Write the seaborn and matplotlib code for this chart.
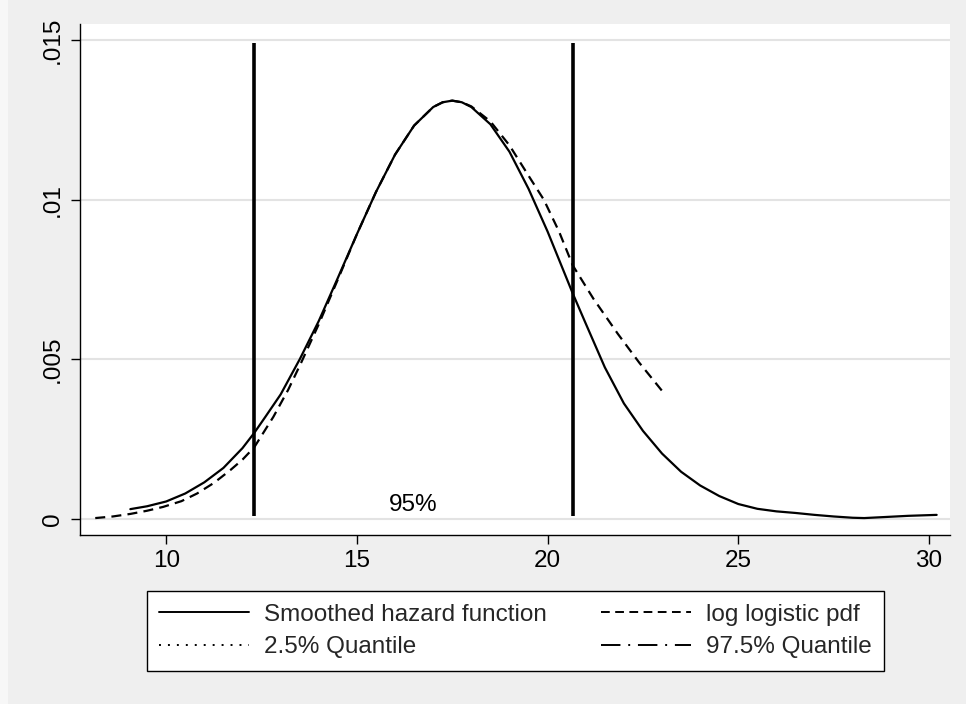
import matplotlib
matplotlib.use("Agg")
import matplotlib.pyplot as plt
from matplotlib.lines import Line2D
from matplotlib.patches import Rectangle
import seaborn as sns
import pandas as pd

# ---- data ----
hazard_x = [9.06, 9.50, 10.00, 10.50, 11.00, 11.50, 12.00, 12.31, 12.60, 13.00, 13.50,
            14.00, 14.50, 15.00, 15.50, 16.00, 16.50, 17.00, 17.25, 17.50, 17.75, 18.00,
            18.50, 19.00, 19.50, 20.00, 20.66, 21.00, 21.50, 22.00, 22.50, 23.00, 23.50,
            24.00, 24.50, 25.00, 25.50, 26.00, 26.50, 27.00, 27.50, 28.00, 28.30, 28.80,
            29.45, 30.20]
hazard_y = [0.00031, 0.00040, 0.00055, 0.00080, 0.00115, 0.00160, 0.00222, 0.00270, 0.00320,
            0.00390, 0.00500, 0.00620, 0.00755, 0.00892, 0.01024, 0.01141, 0.01232, 0.01290,
            0.01305, 0.01310, 0.01305, 0.01290, 0.01236, 0.01150, 0.01034, 0.00900, 0.00706,
            0.00612, 0.00475, 0.00362, 0.00276, 0.00205, 0.00148, 0.00105, 0.00072, 0.00047,
            0.00032, 0.00024, 0.00019, 0.00013, 0.00008, 0.00004, 0.00003, 0.00006, 0.00010,
            0.00013]

loglog_x = [8.14, 8.60, 9.06, 9.50, 9.92, 10.40, 10.81, 11.25, 11.68, 12.00, 12.31, 12.81,
            13.20, 13.54, 14.00, 14.50, 15.00, 15.50, 16.00, 16.50, 17.00, 17.25, 17.50,
            17.75, 18.00, 18.50, 19.00, 19.50, 19.90, 20.30, 20.66, 21.20, 21.84, 22.40,
            23.05]
loglog_y = [0.00003, 0.00008, 0.00016, 0.00026, 0.00038, 0.00056, 0.00080, 0.00113, 0.00153,
            0.00186, 0.00225, 0.00320, 0.00405, 0.00490, 0.00610, 0.00750, 0.00892, 0.01024,
            0.01141, 0.01232, 0.01290, 0.01305, 0.01310, 0.01305, 0.01292, 0.01245, 0.01170,
            0.01075, 0.01000, 0.00900, 0.00794, 0.00690, 0.00580, 0.00490, 0.00394]

quantile_x = [12.31, 20.66]
quantile_ymin = 0.0001
quantile_ymax = 0.0149

x_ticks = [10, 15, 20, 25, 30]
y_ticks = [0, 0.005, 0.01, 0.015]
y_ticklabels = ["0", ".005", ".01", ".015"]

label_text = "95%"
label_pos = (16.48, 0.00044)

legend_labels = ["Smoothed hazard function", "log logistic pdf",
                 "2.5% Quantile", "97.5% Quantile"]

# ---- styling ----
sns.set_theme(style="white")
plt.rcParams["font.family"] = ["Liberation Sans", "DejaVu Sans"]
FS = 17.5
BG = "#EFEFEF"

fig = plt.figure(figsize=(9.66, 7.04), dpi=100, facecolor=BG)
fig.patches.append(Rectangle((0, 0), 8 / 966, 1, transform=fig.transFigure,
                             facecolor="#F7F7F7", edgecolor="none", zorder=-10))
ax = fig.add_axes([80 / 966, 1 - 535 / 704, 870 / 966, 511 / 704])
ax.set_facecolor("white")

df_h = pd.DataFrame({"x": hazard_x, "y": hazard_y})
df_l = pd.DataFrame({"x": loglog_x, "y": loglog_y})

sns.lineplot(data=df_h, x="x", y="y", ax=ax, color="black", lw=1.6, sort=False,
             estimator=None, zorder=3)
sns.lineplot(data=df_l, x="x", y="y", ax=ax, color="black", lw=1.6, sort=False,
             estimator=None, zorder=3, linestyle=(0, (4.5, 2.8)))

ax.vlines(quantile_x, quantile_ymin, quantile_ymax, color="black", lw=2.6, zorder=4)

ax.text(label_pos[0], label_pos[1], label_text, fontsize=FS, ha="center", va="center",
        color="black")

ax.set_xlim(7.74, 30.55)
ax.set_ylim(-0.0005, 0.0155)
ax.set_xticks(x_ticks)
ax.set_xticklabels([str(t) for t in x_ticks])
ax.set_yticks(y_ticks)
ax.set_yticklabels(y_ticklabels, rotation=90, va="center")
ax.set_xlabel("")
ax.set_ylabel("")

ax.grid(axis="y", color="#E3E3E3", lw=1.5, zorder=0)
ax.grid(axis="x", visible=False)
ax.set_axisbelow(True)

for s in ["top", "right"]:
    ax.spines[s].set_visible(False)
for s in ["left", "bottom"]:
    ax.spines[s].set_color("black")
    ax.spines[s].set_linewidth(1.0)

ax.tick_params(axis="both", which="major", direction="out", length=6.5, width=1.0,
               color="black", labelsize=FS, labelcolor="black", left=True, bottom=True)
ax.tick_params(axis="y", pad=5)
ax.tick_params(axis="x", pad=4)

handles = [
    Line2D([], [], color="black", lw=1.4, linestyle="-"),
    Line2D([], [], color="black", lw=1.4, linestyle=(0, (1, 3.6))),
    Line2D([], [], color="black", lw=1.4, linestyle=(0, (4.5, 2.8))),
    Line2D([], [], color="black", lw=1.4, linestyle=(0, (10, 4, 1, 4))),
]
labels = [legend_labels[0], legend_labels[2], legend_labels[1], legend_labels[3]]
leg = fig.legend(handles, labels, ncol=2, loc="center",
                 bbox_to_anchor=(515.5 / 966, 1 - 631 / 704),
                 fontsize=FS, frameon=True, fancybox=False, edgecolor="black",
                 facecolor="white", framealpha=1, handlelength=3.7, handletextpad=0.62,
                 columnspacing=2.2, labelspacing=0.45, borderpad=0.5, borderaxespad=0)
leg.get_frame().set_linewidth(1.0)

fig.savefig("out.png", dpi=100, facecolor=fig.get_facecolor())
